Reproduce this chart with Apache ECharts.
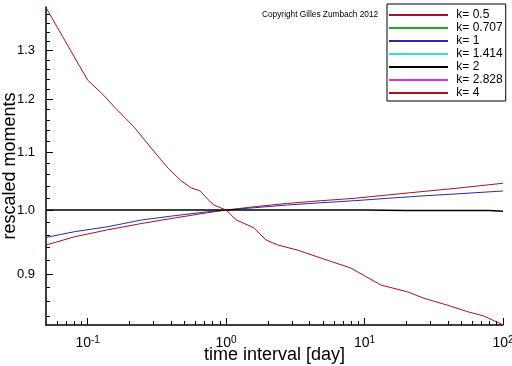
<!DOCTYPE html>
<html>
<head>
<meta charset="utf-8">
<script src="https://cdn.jsdelivr.net/npm/echarts@6/dist/echarts.min.js"></script>
<style>
html,body{margin:0;padding:0;background:#fff;}
#chart{width:512px;height:366px;}
</style>
</head>
<body>
<div id="chart"></div>
<script>
// ---- data ----
const seriesNames = ['k= 0.5', 'k= 0.707', 'k= 1', 'k= 1.414', 'k= 2', 'k= 2.828', 'k= 4'];

const tK05 = [0.05, 0.0806, 0.14, 0.244, 0.424, 0.738, 1.0, 1.6, 2.78, 4.84, 8.41, 14.6, 25.5, 44.3, 100];
const vK05 = [0.944, 0.957, 0.968, 0.978, 0.987, 0.9956, 1.0, 1.0054, 1.011, 1.0154, 1.0194, 1.025, 1.0306, 1.036, 1.045];

const tK1 = [0.05, 0.0806, 0.14, 0.244, 0.424, 0.738, 1.0, 1.6, 2.78, 4.84, 8.41, 14.6, 25.5, 44.3, 100];
const vK1 = [0.956, 0.965, 0.973, 0.9837, 0.9907, 0.9972, 1.0, 1.0038, 1.0083, 1.012, 1.0154, 1.0194, 1.0233, 1.0266, 1.0318];

const tK2 = [0.05, 0.1, 0.3, 1, 3, 10, 20, 50, 80, 100];
const vK2 = [1.0002, 0.9999, 1.0001, 1.0, 1.0, 1.0, 0.9994, 0.9993, 0.9992, 0.998];

const tK4 = [0.05, 0.1, 0.126, 0.158, 0.217, 0.288, 0.382, 0.474, 0.56, 0.65, 0.742, 0.82, 1.0, 1.18, 1.59, 1.94, 2.37, 3.30, 4.84, 7.96, 13.1, 20.5, 26.8, 39.9, 55.6, 72.5, 100];
const vK4 = [1.395, 1.238, 1.212, 1.183, 1.146, 1.107, 1.071, 1.049, 1.037, 1.032, 1.017, 1.008, 1.0, 0.984, 0.971, 0.952, 0.944, 0.936, 0.924, 0.909, 0.884, 0.874, 0.865, 0.855, 0.846, 0.840, 0.828];

const tEmpty = [];
const vEmpty = [];

// tick values
const xMajorTicks = [0.1, 1, 10, 100];
const xMinorTicks = [0.06, 0.07, 0.08, 0.09, 0.2, 0.3, 0.4, 0.5, 0.6, 0.7, 0.8, 0.9, 2, 3, 4, 5, 6, 7, 8, 9, 20, 30, 40, 50, 60, 70, 80, 90];
const yMajorTicks = [0.9, 1.0, 1.1, 1.2, 1.3];
const yMinorTicks = [0.84, 0.86, 0.88, 0.92, 0.94, 0.96, 0.98, 1.02, 1.04, 1.06, 1.08, 1.12, 1.14, 1.16, 1.18, 1.22, 1.24, 1.26, 1.28, 1.32, 1.34, 1.36, 1.38];

const xMin = 0.05, xMax = 100;
const yMin = 0.8277, yMax = 1.3964;

const xTitle = 'time interval [day]';
const yTitle = 'rescaled moments';
const copyright = 'Copyright Gilles Zumbach 2012';

// ---- chart ----
const FONT = '"Liberation Sans", Arial, Helvetica, sans-serif';
const colors = ['#a8102a', '#18b018', '#2a2aa8', '#30dede', '#000000', '#d830d8', '#a8102a'];

function zip(t, v) { return t.map((x, i) => [x, v[i]]); }
const seriesData = [zip(tK05, vK05), zip(tEmpty, vEmpty), zip(tK1, vK1), zip(tEmpty, vEmpty), zip(tK2, vK2), zip(tEmpty, vEmpty), zip(tK4, vK4)];

const chart = echarts.init(document.getElementById('chart'), null, {renderer: 'canvas'});

const option = {
  animation: false,
  backgroundColor: '#fff',
  color: colors,
  textStyle: {fontFamily: FONT},
  grid: {left: 46, right: 9, top: 7, bottom: 41, containLabel: false, outerBoundsMode: 'none'},
  legend: {
    orient: 'vertical',
    left: 387, top: 4,
    padding: [5, 3, 2, 1],
    itemWidth: 59, itemHeight: 12, itemGap: 1,
    borderColor: '#000', borderWidth: 1,
    backgroundColor: '#fff',
    data: seriesNames,
    formatter: n => ' ' + n,
    itemStyle: {opacity: 0, borderWidth: 0},
    textStyle: {fontFamily: FONT, fontSize: 12, color: '#000'},
    selectedMode: false
  },
  graphic: [{
    type: 'text', left: 262, top: 11,
    style: {text: copyright, font: '8.3px ' + FONT, fill: '#000'}
  }],
  xAxis: [{
    type: 'log', logBase: 10, min: xMin, max: xMax, position: 'bottom',
    name: xTitle, nameLocation: 'middle', nameGap: 21, nameMoveOverlap: false,
    nameTextStyle: {fontSize: 18, color: '#000', fontFamily: FONT},
    axisLine: {show: true, lineStyle: {color: '#000', width: 1.5}},
    axisTick: {show: true, inside: true, length: 7, customValues: xMajorTicks, lineStyle: {color: '#000', width: 1}},
    minorTick: {show: false},
    splitLine: {show: false},
    axisLabel: {
      customValues: xMajorTicks, margin: 10, color: '#000',
      formatter: v => '{b|10}{s|' + Math.round(Math.log10(v)) + '}',
      rich: {
        b: {fontSize: 14, fontFamily: FONT, color: '#000', lineHeight: 16},
        s: {fontSize: 10, fontFamily: FONT, color: '#000', verticalAlign: 'top', lineHeight: 10}
      }
    }
  }, {
    type: 'log', logBase: 10, min: xMin, max: xMax, position: 'bottom',
    axisLine: {show: false},
    axisTick: {show: true, inside: true, length: 4, customValues: xMinorTicks, lineStyle: {color: '#000', width: 1}},
    axisLabel: {show: false},
    splitLine: {show: false}
  }],
  yAxis: [{
    type: 'log', logBase: 10, min: yMin, max: yMax, position: 'left',
    name: yTitle, nameLocation: 'middle', nameGap: 27, nameMoveOverlap: false,
    nameTextStyle: {fontSize: 18, color: '#000', fontFamily: FONT},
    axisLine: {show: true, lineStyle: {color: '#000', width: 1.5}},
    axisTick: {show: true, inside: true, length: 7, customValues: yMajorTicks, lineStyle: {color: '#000', width: 1}},
    minorTick: {show: false},
    splitLine: {show: false},
    axisLabel: {
      customValues: yMajorTicks, margin: 11, color: '#000', fontSize: 13, fontFamily: FONT,
      formatter: v => Number(v).toFixed(1)
    }
  }, {
    type: 'log', logBase: 10, min: yMin, max: yMax, position: 'left',
    axisLine: {show: false},
    axisTick: {show: true, inside: true, length: 4, customValues: yMinorTicks, lineStyle: {color: '#000', width: 1}},
    axisLabel: {show: false},
    splitLine: {show: false}
  }],
  series: seriesNames.map((name, i) => ({
    name: name,
    type: 'line',
    xAxisIndex: 0, yAxisIndex: 0,
    data: seriesData[i],
    symbol: 'none',
    showSymbol: false,
    smooth: false,
    clip: true,
    lineStyle: {width: i === 4 ? 1.5 : 1, color: colors[i]},
    itemStyle: {color: colors[i]},
    emphasis: {disabled: true}
  }))
};

chart.setOption(option);
</script>
</body>
</html>
